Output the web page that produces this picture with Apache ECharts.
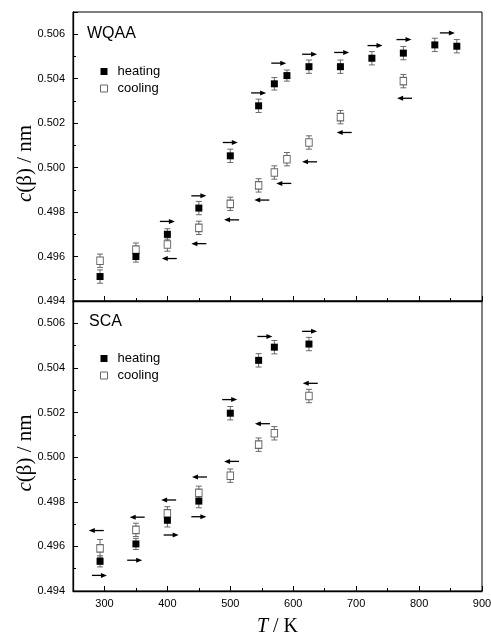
<!DOCTYPE html>
<html><head><meta charset="utf-8">
<script src="https://cdn.jsdelivr.net/npm/echarts@6/dist/echarts.min.js"></script>
<style>html,body{margin:0;padding:0;background:#fff}#c{width:491px;height:632px}</style>
</head><body><div id="c"></div>
<script>
// ---- data (T in K, c(beta) in nm) ----
const topHeatT = [293,350,400,450,500,545,570,590,625,675,725,775,825,860];
const topHeatV = [0.4951,0.4960,0.4970,0.49818,0.50053,0.50278,0.50377,0.50414,0.50454,0.50454,0.50492,0.50515,0.50552,0.50546];
const topHeatE = [0.0003,0.00025,0.00025,0.0003,0.0003,0.0003,0.00028,0.00025,0.0003,0.0003,0.0003,0.0003,0.0003,0.0003];
const topCoolT = [293,350,400,450,500,545,570,590,625,675,775];
const topCoolV = [0.49581,0.49631,0.49654,0.49729,0.49837,0.4992,0.49978,0.50038,0.50113,0.50227,0.50389];
const topCoolE = [0.0003,0.0003,0.0003,0.0003,0.0003,0.0003,0.0003,0.0003,0.0003,0.0003,0.0003];
const topHeatArrT = [400,450,500,545,577,626,677,730,776,845];
const topHeatArrV = [0.49758,0.49873,0.50113,0.50336,0.50470,0.5051,0.50518,0.50549,0.50576,0.50606];
const topCoolArrT = [403,450,502,550,585,626,681,777];
const topCoolArrV = [0.49591,0.49658,0.49765,0.49854,0.49929,0.50026,0.50158,0.50312];

const botHeatT = [293,350,400,450,500,545,570,625];
const botHeatV = [0.49533,0.49611,0.49717,0.49803,0.50197,0.50434,0.50493,0.50507];
const botHeatE = [0.00025,0.00025,0.0003,0.0003,0.0003,0.0003,0.0003,0.0003];
const botCoolT = [293,350,400,450,500,545,570,625];
const botCoolV = [0.49591,0.49674,0.49748,0.4984,0.49917,0.50056,0.50107,0.50274];
const botCoolE = [0.0004,0.0003,0.0003,0.0003,0.0003,0.0003,0.0003,0.0003];
const botHeatArrT = [292,348,406,450,499,555,626];
const botHeatArrV = [0.4947,0.49538,0.49651,0.49733,0.50258,0.50541,0.50564];
const botCoolArrT = [287,352,402,451,502,551,627];
const botCoolArrV = [0.49671,0.49731,0.49808,0.49911,0.49981,0.5015,0.50331];

const panelTitles = ['WQAA','SCA'];
const seriesNames = ['heating','cooling'];

// ---- helpers ----
const zip = (a,b) => a.map((t,i)=>[t,b[i]]);
const errData = (t,v,e) => t.map((x,i)=>[x, v[i]-e[i], v[i]+e[i]]);
const arrData = (t,v,d) => t.map((x,i)=>[x, v[i], d]);

function renderErr(params, api){
  const x = api.value(0);
  const p1 = api.coord([x, api.value(1)]);
  const p2 = api.coord([x, api.value(2)]);
  const w = 3;
  const st = {stroke:'#6a6a6a', lineWidth:1};
  return {type:'group', children:[
    {type:'line', shape:{x1:p1[0],y1:p1[1],x2:p2[0],y2:p2[1]}, style:st},
    {type:'line', shape:{x1:p1[0]-w,y1:p1[1],x2:p1[0]+w,y2:p1[1]}, style:st},
    {type:'line', shape:{x1:p2[0]-w,y1:p2[1],x2:p2[0]+w,y2:p2[1]}, style:st}
  ]};
}
function renderArrow(params, api){
  const c = api.coord([api.value(0), api.value(1)]);
  const d = api.value(2);
  const half = 7.5, hl = 6, hw = 2.5;
  const tip = c[0] + d*half, tail = c[0] - d*half;
  return {type:'group', children:[
    {type:'line', shape:{x1:tail,y1:c[1],x2:tip - d*hl*0.5,y2:c[1]}, style:{stroke:'#000', lineWidth:1.3}},
    {type:'polygon', shape:{points:[[tip,c[1]],[tip-d*hl,c[1]-hw],[tip-d*hl,c[1]+hw]]}, style:{fill:'#000'}}
  ]};
}

const grids = [
  {left:73, right:9, top:12, height:289, show:true, borderColor:'#000', borderWidth:1, containLabel:false, outerBoundsMode:'none'},
  {left:73, right:9, top:301, height:290, show:true, borderColor:'#000', borderWidth:1, containLabel:false, outerBoundsMode:'none'}
];

function xAxisCfg(i){
  return {type:'value', gridIndex:i, min:250, max:900, minInterval:100, maxInterval:100,
    axisLine:{show:true, onZero:false, lineStyle:{color:'#000', width:1.3}},
    axisTick:{show:true, inside:true, length:5, lineStyle:{color:'#000'}},
    minorTick:{show:true, splitNumber:2, length:3, lineStyle:{color:'#000'}},
    splitLine:{show:false}, minorSplitLine:{show:false},
    axisLabel:{show:i===1, showMinLabel:false, color:'#000', fontSize:11, fontFamily:'Liberation Sans, Arial', margin:7},
    name: i===1 ? '{i|T} / K' : '', nameLocation:'middle', nameGap:26,
    nameTextStyle:{fontFamily:'Liberation Serif', fontSize:20, color:'#000', rich:{i:{fontFamily:'Liberation Serif', fontStyle:'italic', fontSize:20, color:'#000'}}}
  };
}
function yAxisCfg(i){
  return {type:'value', gridIndex:i, min:0.494, max:0.507, interval:0.002,
    axisLine:{show:true, onZero:false, lineStyle:{color:'#000', width:1.3}},
    axisTick:{show:true, inside:true, length:5, lineStyle:{color:'#000'}},
    minorTick:{show:true, splitNumber:2, length:3, lineStyle:{color:'#000'}},
    splitLine:{show:false}, minorSplitLine:{show:false},
    axisLabel:{color:'#000', fontSize:11, fontFamily:'Liberation Sans, Arial', margin:8, showMaxLabel:false,
      formatter: v => v.toFixed(3)},
    name:'{i|c}(β) / nm', nameLocation:'middle', nameGap:37, nameMoveOverlap:false,
    nameTextStyle:{fontFamily:'Liberation Serif', fontSize:21, color:'#000', padding:[0,14,0,0],
      rich:{i:{fontFamily:'Liberation Serif', fontStyle:'italic', fontSize:21, color:'#000'}}}
  };
}

function panelSeries(i, hT,hV,hE, cT,cV,cE, haT,haV, caT,caV){
  const ax = {xAxisIndex:i, yAxisIndex:i};
  return [
    Object.assign({type:'custom', name:'errH'+i, renderItem:renderErr, data:errData(hT,hV,hE), z:2, silent:true}, ax),
    Object.assign({type:'custom', name:'errC'+i, renderItem:renderErr, data:errData(cT,cV,cE), z:2, silent:true}, ax),
    Object.assign({type:'scatter', name:seriesNames[1], data:zip(cT,cV), symbol:'rect', symbolSize:[6.5,7.5],
      itemStyle:{color:'#fff', borderColor:'#666', borderWidth:1, opacity:1}, z:3}, ax),
    Object.assign({type:'scatter', name:seriesNames[0], data:zip(hT,hV), symbol:'rect', symbolSize:7,
      itemStyle:{color:'#000', opacity:1}, z:4}, ax),
    Object.assign({type:'custom', name:'arrH'+i, renderItem:renderArrow, data:arrData(haT,haV,1), z:5, silent:true}, ax),
    Object.assign({type:'custom', name:'arrC'+i, renderItem:renderArrow, data:arrData(caT,caV,-1), z:5, silent:true}, ax)
  ];
}

const legendCfg = (top) => ({orient:'vertical', left:95, top:top, itemWidth:7, itemHeight:7, itemGap:4,
  icon:'rect', selectedMode:false,
  textStyle:{fontSize:13, fontFamily:'Liberation Sans, Arial', color:'#000', padding:[0,0,0,5]},
  data:[{name:'heating', itemStyle:{color:'#000'}}, {name:'cooling', itemStyle:{color:'#fff', borderColor:'#666', borderWidth:1}}]
});

const option = {
  animation:false,
  backgroundColor:'#fff',
  title:[
    {text:panelTitles[0], left:87, top:26, padding:0, textStyle:{fontSize:16, fontWeight:'normal', fontFamily:'Liberation Sans, Arial', color:'#000'}},
    {text:panelTitles[1], left:89, top:314, padding:0, textStyle:{fontSize:16, fontWeight:'normal', fontFamily:'Liberation Sans, Arial', color:'#000'}}
  ],
  legend:[legendCfg(60), legendCfg(347)],
  grid:grids,
  xAxis:[xAxisCfg(0), xAxisCfg(1)],
  yAxis:[yAxisCfg(0), yAxisCfg(1)],
  series:[].concat(
    panelSeries(0, topHeatT,topHeatV,topHeatE, topCoolT,topCoolV,topCoolE, topHeatArrT,topHeatArrV, topCoolArrT,topCoolArrV),
    panelSeries(1, botHeatT,botHeatV,botHeatE, botCoolT,botCoolV,botCoolE, botHeatArrT,botHeatArrV, botCoolArrT,botCoolArrV)
  )
};
const chart = echarts.init(document.getElementById('c'), null, {renderer:'canvas'});
chart.setOption(option);
</script>
</body></html>
